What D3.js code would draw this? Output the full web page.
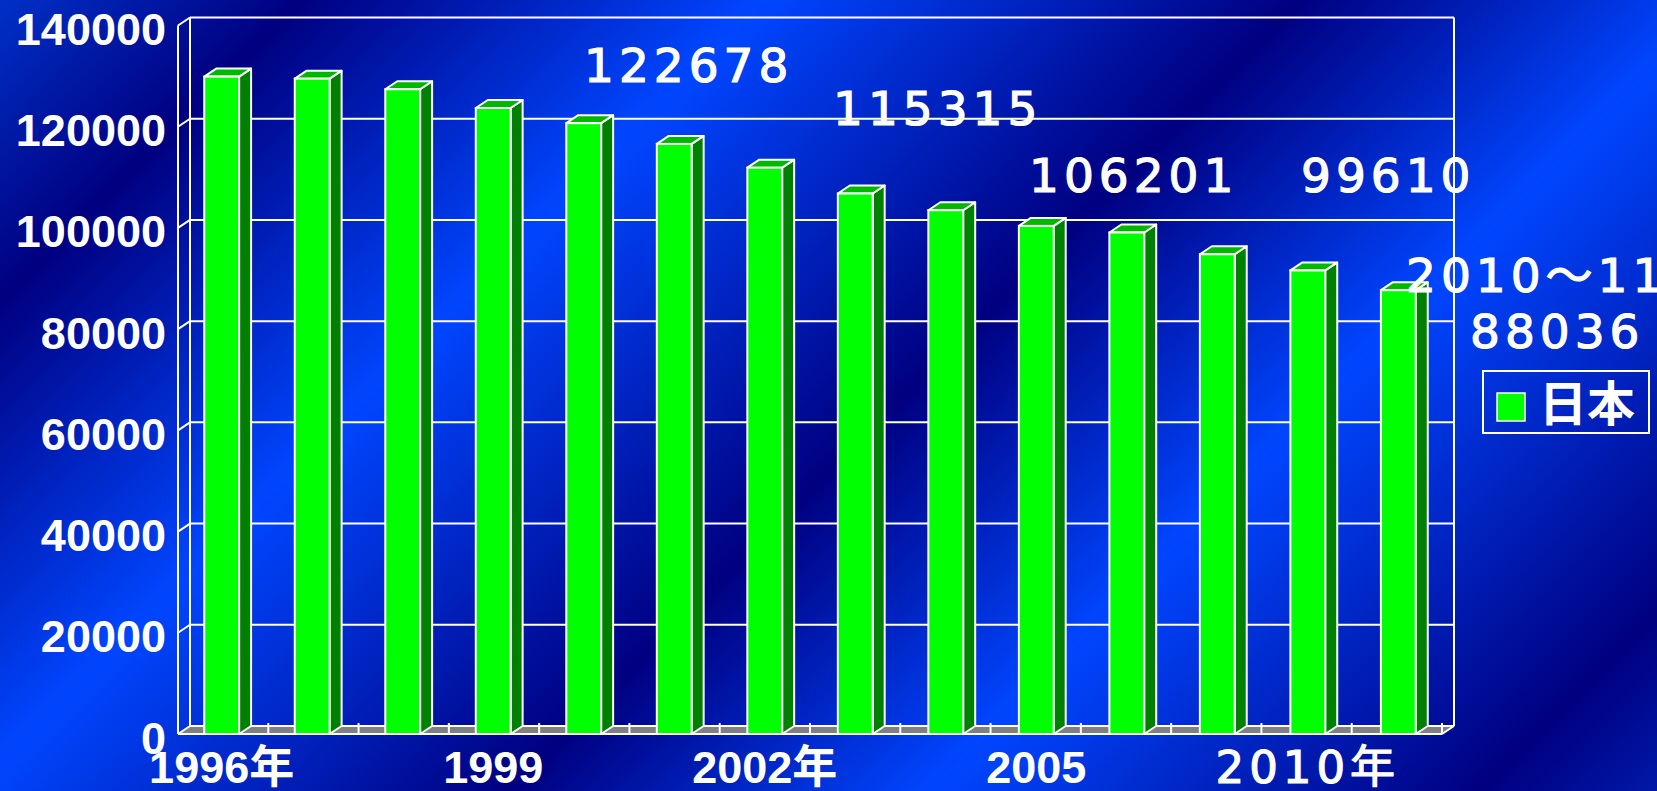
<!DOCTYPE html>
<html><head><meta charset="utf-8">
<script src="https://cdn.jsdelivr.net/npm/d3@7"></script>
<style>html,body{margin:0;padding:0;overflow:hidden;background:#000080}</style>
</head><body>
<svg id="c" width="1657" height="791"></svg>
<script>
// ---- data ----
const categories = ["1996年","1997","1998","1999","2000","2001","2002年","2003","2004","2005","2006","2008","2010年","2011"];
const values = [129900,129500,127400,123700,120700,116600,111900,106800,103500,100400,99100,94800,91600,87700];
const yTicks = [0,20000,40000,60000,80000,100000,120000,140000];
const yMax = 140000;
const labelEvery = 3;
const seriesName = "日本";
const annotationTexts = ["122678","115315","106201","99610","2010～11","88036"];
const altFontLabels = ["2010年"];

// ---- layout ----
const W = 1657, H = 791;
const F = {left:178, right:1442, bottom:734, top:25.5};
const D = {dx:12, dy:8};
const annotationPos = [[584,82],[833,125],[1029,192],[1301,192],[1406,292],[1470,348]];
const NUM_FONT = "'Liberation Sans','Noto Sans CJK JP',Arial,sans-serif";
const ANN_FONT = "'DejaVu Sans','Noto Sans CJK JP',sans-serif";

const svg = d3.select("#c");
const defs = svg.append("defs");
const g = defs.append("linearGradient").attr("id","bg")
  .attr("gradientUnits","userSpaceOnUse")
  .attr("x1",0).attr("y1",0).attr("x2",1224).attr("y2",1224);
[[0,"#0030c8"],[0.123,"#000080"],[0.3125,"#0046ff"],[0.531,"#000080"],[0.703,"#0046ff"],[0.927,"#000080"],[1,"#0018a8"]]
  .forEach(([o,c]) => g.append("stop").attr("offset",o).attr("stop-color",c));
svg.append("rect").attr("width",W).attr("height",H).attr("fill","url(#bg)");

const yF = d3.scaleLinear().domain([0,yMax]).range([F.bottom,F.top]);
const yB = v => yF(v) - D.dy;
const xBand = d3.scaleBand().domain(categories).range([F.left,F.right]).padding(0);
const xBar = d3.scaleBand().domain(categories).range([F.left,F.right]).paddingInner(0.615).paddingOuter(0.29);
const bw = xBar.bandwidth();
const BL = F.left + D.dx, BR = F.right + D.dx;

function line(x1,y1,x2,y2,sw=2){
  svg.append("line").attr("x1",x1).attr("y1",y1).attr("x2",x2).attr("y2",y2)
    .attr("stroke","#fff").attr("stroke-width",sw);
}

// floor
svg.append("polygon")
  .attr("points",[[F.left,F.bottom],[F.right,F.bottom],[BR,F.bottom-D.dy],[BL,F.bottom-D.dy]].join(" "))
  .attr("fill","#808080");

// back wall gridlines
svg.append("g").selectAll("line").data(yTicks).join("line")
  .attr("x1",BL).attr("x2",BR).attr("y1",d=>yB(d)).attr("y2",d=>yB(d))
  .attr("stroke","#fff").attr("stroke-width",2);
line(BL,yB(yMax),BL,yB(0));
line(BR,yB(yMax),BR,yB(0));
// left wall: front axis and slants
line(F.left,yF(yMax),F.left,yF(0));
svg.append("g").selectAll("line").data(yTicks).join("line")
  .attr("x1",F.left).attr("x2",BL).attr("y1",d=>yF(d)).attr("y2",d=>yB(d))
  .attr("stroke","#fff").attr("stroke-width",2);
line(F.left,F.bottom,F.right,F.bottom);
line(F.right,F.bottom,BR,F.bottom-D.dy);
// category ticks
svg.append("g").selectAll("line").data(categories).join("line")
  .attr("x1",d=>xBand(d)+xBand.step()).attr("x2",d=>xBand(d)+xBand.step())
  .attr("y1",F.bottom-11).attr("y2",F.bottom)
  .attr("stroke","#fff").attr("stroke-width",2);

// bars
const bars = svg.append("g").selectAll("g").data(categories.map((c,i)=>({c,v:values[i]}))).join("g");
bars.append("polygon")
  .attr("points",d=>{const x1=xBar(d.c)+bw, yt=yF(d.v);
    return [[x1,F.bottom],[x1+D.dx,F.bottom-D.dy],[x1+D.dx,yt-D.dy],[x1,yt]].join(" ");})
  .attr("fill","#008000").attr("stroke","#fff").attr("stroke-width",2).attr("stroke-linejoin","round");
bars.append("polygon")
  .attr("points",d=>{const x0=xBar(d.c), x1=x0+bw, yt=yF(d.v);
    return [[x0,yt],[x0+D.dx,yt-D.dy],[x1+D.dx,yt-D.dy],[x1,yt]].join(" ");})
  .attr("fill","#00b800").attr("stroke","#fff").attr("stroke-width",2).attr("stroke-linejoin","round");
bars.append("rect")
  .attr("x",d=>xBar(d.c)).attr("y",d=>yF(d.v)).attr("width",bw).attr("height",d=>F.bottom-yF(d.v))
  .attr("fill","#00ff00").attr("stroke","#fff").attr("stroke-width",2);

// y labels
svg.append("g").selectAll("text").data(yTicks).join("text")
  .attr("x",166).attr("y",d=>yF(d)+19.5).attr("text-anchor","end")
  .attr("fill","#fff").attr("font-family",NUM_FONT).attr("font-weight","bold").attr("font-size",45)
  .text(d=>d);

// x labels
svg.append("g").selectAll("text").data(categories.filter((c,i)=>i%labelEvery===0)).join("text")
  .attr("x",d=>xBar(d)+bw/2).attr("y",783).attr("text-anchor","middle")
  .attr("fill","#fff")
  .attr("stroke",d=>altFontLabels.includes(d)?"#fff":"none").attr("stroke-width",1.2)
  .attr("font-family",d=>altFontLabels.includes(d)?ANN_FONT:NUM_FONT)
  .attr("font-weight",d=>altFontLabels.includes(d)?"normal":"bold")
  .attr("letter-spacing",d=>altFontLabels.includes(d)?5:0)
  .attr("font-size",45)
  .text(d=>d);

// annotations
svg.append("g").selectAll("text").data(annotationTexts).join("text")
  .attr("x",(d,i)=>annotationPos[i][0]).attr("y",(d,i)=>annotationPos[i][1])
  .attr("fill","#fff").attr("stroke","#fff").attr("stroke-width",1.2)
  .attr("font-family",ANN_FONT).attr("font-size",47).attr("letter-spacing",5)
  .text(d=>d);

// legend
const lg = svg.append("g");
lg.append("rect").attr("x",1483).attr("y",371).attr("width",166).attr("height",62)
  .attr("fill","none").attr("stroke","#fff").attr("stroke-width",2);
lg.append("rect").attr("x",1497).attr("y",393).attr("width",28).attr("height",28)
  .attr("fill","#00ff00").attr("stroke","#fff").attr("stroke-width",1.5);
lg.append("text").attr("x",1539).attr("y",421).attr("fill","#fff")
  .attr("font-family","'Noto Sans CJK JP',sans-serif").attr("font-weight","bold").attr("font-size",48)
  .text(seriesName);
</script>
</body></html>
